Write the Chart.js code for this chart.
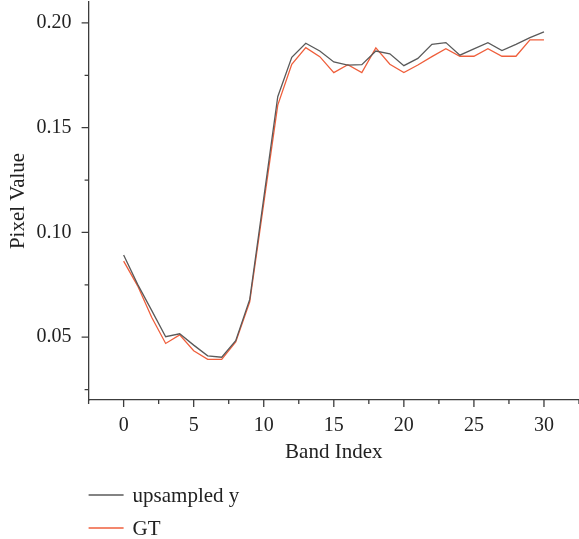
<!DOCTYPE html>
<html>
<head>
<meta charset="utf-8">
<script src="https://cdn.jsdelivr.net/npm/chart.js@4"></script>
<style>
  body { margin: 0; background: #fff; }
  canvas { display: block; }
</style>
</head>
<body>
<canvas id="spectrum" width="579" height="539"></canvas>
<script>
// band indices
const bands = [0, 1, 2, 3, 4, 5, 6, 7, 8, 9, 10, 11, 12, 13, 14, 15, 16, 17, 18, 19, 20, 21, 22, 23, 24, 25, 26, 27, 28, 29, 30]

const upsampled = [0.0892, 0.0752, 0.0628, 0.0502, 0.0516, 0.0462, 0.0411, 0.0404, 0.0483, 0.0680,
                   0.1164, 0.1648, 0.1836, 0.1903, 0.1866, 0.1814, 0.1799, 0.1801, 0.1866, 0.1853,
                   0.1796, 0.1831, 0.1898, 0.1906, 0.1846, 0.1876, 0.1906, 0.1868, 0.1898, 0.1930, 0.1957]
const gt = [0.0863, 0.0745, 0.0595, 0.0470, 0.0511, 0.0435, 0.0394, 0.0394, 0.0477, 0.0669,
            0.1139, 0.1608, 0.1803, 0.1882, 0.1839, 0.1763, 0.1801, 0.1763, 0.1881, 0.1803,
            0.1763, 0.1799, 0.1839, 0.1877, 0.1841, 0.1841, 0.1877, 0.1841, 0.1841, 0.1919, 0.1919]

// tick positions (majors get labels)
const xTicks = [-2.5, 0, 2.5, 5, 7.5, 10, 12.5, 15, 17.5, 20, 22.5, 25, 27.5, 30, 32.5]
const yTicks = [0.025, 0.05, 0.075, 0.1, 0.125, 0.15, 0.175, 0.2]

const seriesNames = ['upsampled y', 'GT']
const seriesColors = ['#5a5a5a', '#ef5f3c']

const serif = "'Liberation Serif', 'DejaVu Serif', serif"
const axisColor = '#3c3c3c'

const isMajor = (v, step) => Math.abs(v / step - Math.round(v / step)) < 1e-6

//ticks: longer for majors, shorter for minors
const tickMarks = {
    id: 'tickMarks',
    afterDraw(chart) {
        const ctx = chart.ctx
        const x = chart.scales.x, y = chart.scales.y
        ctx.save()
        ctx.strokeStyle = axisColor
        ctx.lineWidth = 1.3
        ctx.beginPath()
        x.ticks.forEach(t => {
            const px = x.getPixelForValue(t.value)
            const len = isMajor(t.value, 5) ? 7 : 4
            ctx.moveTo(px, x.top)
            ctx.lineTo(px, x.top + len)
        })
        y.ticks.forEach(t => {
            const py = y.getPixelForValue(t.value)
            const len = isMajor(t.value, 0.05) ? 7 : 4
            ctx.moveTo(y.right, py)
            ctx.lineTo(y.right - len, py)
        })
        ctx.stroke()
        ctx.restore()
    }
}

//legend stacked under the axis
const stackedLegend = {
    id: 'stackedLegend',
    afterDraw(chart) {
        const ctx = chart.ctx
        const left = chart.chartArea.left
        ctx.save()
        ctx.font = '21px ' + serif
        ctx.textBaseline = 'middle'
        chart.data.datasets.forEach((ds, i) => {
            const yy = 495 + i * 33
            ctx.strokeStyle = ds.borderColor
            ctx.lineWidth = 1.3
            ctx.beginPath()
            ctx.moveTo(left, yy)
            ctx.lineTo(left + 35, yy)
            ctx.stroke()
            ctx.fillStyle = '#222'
            ctx.fillText(ds.label, left + 44, yy + 1)
        })
        ctx.restore()
    }
}

const toPoints = vals => bands.map((b, i) => ({x: b, y: vals[i]}))

const config = {
    type: 'line',
    data: {
        datasets: [upsampled, gt].map((vals, i) => ({
            label: seriesNames[i],
            data: toPoints(vals),
            borderColor: seriesColors[i],
            borderWidth: 1.3,
            pointRadius: 0,
            tension: 0,
            fill: false
        }))
    },
    options: {
        responsive: false,
        animation: false,
        layout: { padding: { top: 2, right: 0, left: 0, bottom: 0 } },
        plugins: {
            legend: { display: false },
            tooltip: { enabled: false }
        },
        scales: {
            x: {
                type: 'linear',
                min: -2.5,
                max: 32.5,
                afterBuildTicks: s => { s.ticks = xTicks.map(v => ({value: v})) },
                afterFit: s => { s.height = 139; s.paddingLeft = 0; s.paddingRight = 0 },
                grid: { display: true, drawOnChartArea: false, tickLength: 7, tickColor: 'transparent' },
                border: { display: true, color: axisColor, width: 1.3 },
                ticks: {
                    padding: 7,
                    color: '#222',
                    font: { family: serif, size: 20 },
                    maxRotation: 0,
                    autoSkip: false,
                    callback: v => isMajor(v, 5) ? String(Math.round(v)) : ''
                },
                title: {
                    display: true,
                    text: 'Band Index',
                    color: '#222',
                    font: { family: serif, size: 21 },
                    padding: { top: 0, bottom: 74 }
                }
            },
            y: {
                min: 0.02,
                max: 0.21,
                afterBuildTicks: s => { s.ticks = yTicks.map(v => ({value: v})) },
                afterFit: s => { s.width = 88.6; s.paddingTop = 0; s.paddingBottom = 0 },
                grid: { display: true, drawOnChartArea: false, tickLength: 7, tickColor: 'transparent' },
                border: { display: true, color: axisColor, width: 1.3 },
                ticks: {
                    padding: 10,
                    color: '#222',
                    font: { family: serif, size: 20 },
                    autoSkip: false,
                    callback: v => isMajor(v, 0.05) ? v.toFixed(2) : ''
                },
                title: {
                    display: true,
                    text: 'Pixel Value',
                    color: '#222',
                    font: { family: serif, size: 21 },
                    padding: { top: 6, bottom: 0 }
                }
            }
        }
    },
    plugins: [tickMarks, stackedLegend]
}

const spectrumChart = new Chart(document.getElementById('spectrum'), config)
</script>
</body>
</html>
